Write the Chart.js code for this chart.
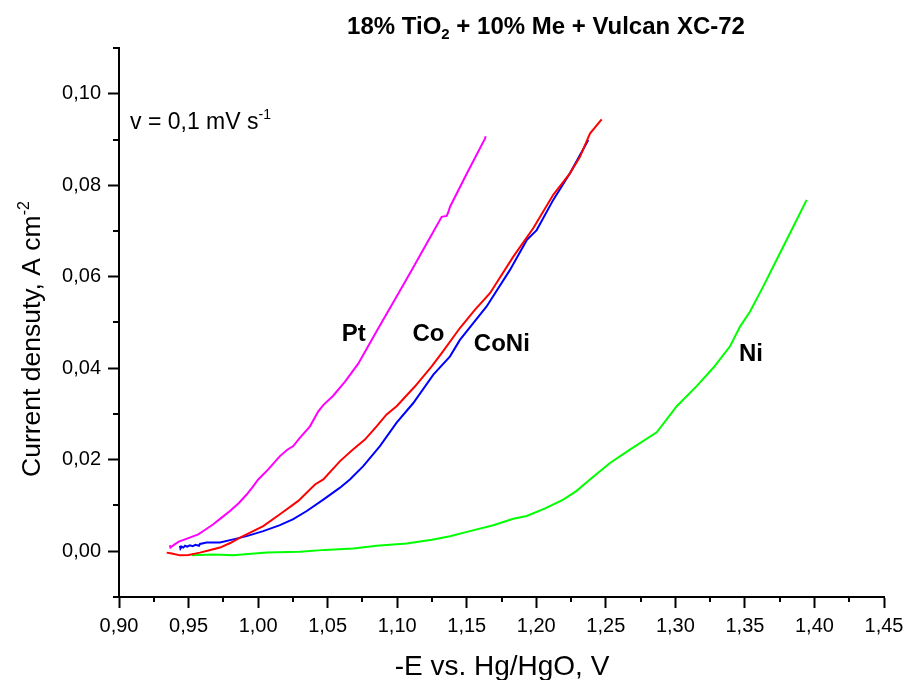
<!DOCTYPE html>
<html>
<head>
<meta charset="utf-8">
<style>
  html, body { margin: 0; padding: 0; background: #fff; }
  #wrap { width: 905px; height: 680px; position: relative; }
</style>
<script src="https://cdn.jsdelivr.net/npm/chart.js@4/dist/chart.umd.min.js"></script>
</head>
<body>
<div id="wrap"><canvas id="c" width="905" height="680"></canvas></div>
<script>
// Polarisation curves: potential (-E vs. Hg/HgO, V) and current density (A cm^-2)
const ptE   = [0.9366, 0.9370, 0.9395, 0.9430, 0.9474, 0.9570, 0.9620, 0.9678, 0.9740, 0.9798, 0.9860, 0.9918, 0.9960, 1.0001, 1.0073, 1.0157, 1.0210, 1.0253, 1.0300, 1.0373, 1.0433, 1.0470, 1.0540, 1.0625, 1.0720, 1.0852, 1.0996, 1.1100, 1.1200, 1.1320, 1.1356, 1.1366, 1.1380, 1.1500, 1.1631, 1.1636];
const ptJ   = [0.0013, 0.0008, 0.0014, 0.0021, 0.0026, 0.0037, 0.0047, 0.0059, 0.0074, 0.0088, 0.0105, 0.0124, 0.0140, 0.0157, 0.0179, 0.0208, 0.0222, 0.0230, 0.0248, 0.0273, 0.0306, 0.0320, 0.0340, 0.0371, 0.0410, 0.0481, 0.0557, 0.0612, 0.0666, 0.0731, 0.0733, 0.0740, 0.0753, 0.0825, 0.0902, 0.0907];

const coE   = [0.9343, 0.9380, 0.9438, 0.9500, 0.9582, 0.9650, 0.9726, 0.9800, 0.9870, 0.9950, 1.0037, 1.0157, 1.0289, 1.0409, 1.0469, 1.0589, 1.0680, 1.0768, 1.0852, 1.0924, 1.0996, 1.1127, 1.1248, 1.1320, 1.1451, 1.1560, 1.1667, 1.1835, 1.1978, 1.2122, 1.2242, 1.2314, 1.2386, 1.2470];
const coJ   = [-0.0003, -0.0005, -0.0009, -0.0008, -0.0003, 0.0002, 0.0008, 0.0018, 0.0030, 0.0042, 0.0055, 0.0081, 0.0110, 0.0146, 0.0157, 0.0197, 0.0222, 0.0244, 0.0273, 0.0299, 0.0317, 0.0360, 0.0404, 0.0433, 0.0488, 0.0528, 0.0564, 0.0644, 0.0706, 0.0779, 0.0826, 0.0862, 0.0913, 0.0944];

const coNiE = [0.9438, 0.9442, 0.9450, 0.9462, 0.9475, 0.9490, 0.9510, 0.9530, 0.9550, 0.9575, 0.9582, 0.9630, 0.9726, 0.9822, 0.9918, 1.0037, 1.0157, 1.0253, 1.0350, 1.0469, 1.0589, 1.0660, 1.0756, 1.0876, 1.0996, 1.1116, 1.1260, 1.1380, 1.1451, 1.1643, 1.1811, 1.1931, 1.2003, 1.2122, 1.2242, 1.2374];
const coNiJ = [0.0012, 0.0006, 0.0010, 0.0008, 0.0012, 0.0010, 0.0013, 0.0011, 0.0014, 0.0012, 0.0016, 0.0019, 0.0019, 0.0026, 0.0033, 0.0044, 0.0057, 0.0070, 0.0088, 0.0113, 0.0139, 0.0157, 0.0186, 0.0230, 0.0281, 0.0324, 0.0386, 0.0426, 0.0462, 0.0535, 0.0615, 0.0680, 0.0702, 0.0768, 0.0826, 0.0899];

const niE   = [0.9523, 0.9678, 0.9822, 1.0062, 1.0301, 1.0481, 1.0684, 1.0852, 1.1068, 1.1250, 1.1380, 1.1523, 1.1691, 1.1835, 1.1931, 1.2060, 1.2194, 1.2290, 1.2386, 1.2530, 1.2673, 1.2866, 1.3010, 1.3153, 1.3273, 1.3393, 1.3465, 1.3537, 1.3632, 1.3728, 1.3824, 1.3944];
const niJ   = [-0.0009, -0.0007, -0.0009, -0.0003, -0.0001, 0.0003, 0.0006, 0.0012, 0.0017, 0.0025, 0.0033, 0.0044, 0.0057, 0.0071, 0.0077, 0.0093, 0.0113, 0.0132, 0.0157, 0.0193, 0.0222, 0.0260, 0.0317, 0.0361, 0.0401, 0.0448, 0.0491, 0.0524, 0.0579, 0.0637, 0.0695, 0.0768];

// Axis ticks
const xMajorTicks = [0.90, 0.95, 1.00, 1.05, 1.10, 1.15, 1.20, 1.25, 1.30, 1.35, 1.40, 1.45];
const xMinorTicks = [0.925, 0.975, 1.025, 1.075, 1.125, 1.175, 1.225, 1.275, 1.325, 1.375, 1.425];
const yMajorTicks = [0.00, 0.02, 0.04, 0.06, 0.08, 0.10];
const yMinorTicks = [-0.01, 0.01, 0.03, 0.05, 0.07, 0.09, 0.11];

const FONT = "'Liberation Sans', Arial, Helvetica, sans-serif";

function pairs(xs, ys) { return xs.map((x, i) => ({ x: x, y: ys[i] })); }
function comma(v) { return v.toFixed(2).replace('.', ','); }

// Draws a run of text pieces, some raised (sup) or lowered (sub)
function drawRich(ctx, parts, x, y, size, weight) {
  let cx = x;
  parts.forEach(p => {
    const s = p.sup || p.sub ? Math.round(size * 0.62) : size;
    ctx.font = weight + ' ' + s + 'px ' + FONT;
    const dy = p.sup ? -size * 0.42 : (p.sub ? size * 0.22 : 0);
    ctx.fillText(p.t, cx, y + dy);
    cx += ctx.measureText(p.t).width;
  });
  return cx - x;
}
function richWidth(ctx, parts, size, weight) {
  let w = 0;
  parts.forEach(p => {
    const s = p.sup || p.sub ? Math.round(size * 0.62) : size;
    ctx.font = weight + ' ' + s + 'px ' + FONT;
    w += ctx.measureText(p.t).width;
  });
  return w;
}

const textPlugin = {
  id: 'texts',
  afterDraw(chart) {
    const ctx = chart.ctx;
    const xs = chart.scales.x, ys = chart.scales.y;
    const area = chart.chartArea;
    ctx.save();
    ctx.fillStyle = '#000';
    ctx.strokeStyle = '#000';
    ctx.textBaseline = 'alphabetic';
    ctx.textAlign = 'left';

    // minor ticks
    ctx.lineWidth = 2;
    ctx.beginPath();
    xMinorTicks.forEach(v => {
      const px = Math.round(xs.getPixelForValue(v));
      ctx.moveTo(px, area.bottom);
      ctx.lineTo(px, area.bottom + 5);
    });
    yMinorTicks.forEach(v => {
      const py = Math.round(ys.getPixelForValue(v));
      ctx.moveTo(area.left, py);
      ctx.lineTo(area.left - 6, py);
    });
    ctx.stroke();

    // title
    const title = [{ t: '18% TiO' }, { t: '2', sub: true }, { t: ' + 10% Me + Vulcan XC-72' }];
    const tw = richWidth(ctx, title, 24, 'bold');
    drawRich(ctx, title, 546 - tw / 2, 34, 24, 'bold');

    // scan rate note
    drawRich(ctx, [{ t: 'v = 0,1 mV s' }, { t: '-1', sup: true }], 130, 129, 23, 'normal');

    // x axis title
    const xt = [{ t: '-E vs. Hg/HgO, V' }];
    const xw = richWidth(ctx, xt, 28, 'normal');
    drawRich(ctx, xt, 502 - xw / 2, 675, 28, 'normal');

    // y axis title
    ctx.save();
    ctx.translate(40, 477);
    ctx.rotate(-Math.PI / 2);
    drawRich(ctx, [{ t: 'Current densuty, A cm' }, { t: '-2', sup: true }], 0, 0, 26.5, 'normal');
    ctx.restore();

    // curve labels
    ctx.font = 'bold 24px ' + FONT;
    ctx.fillText('Pt', xs.getPixelForValue(1.0601), ys.getPixelForValue(0.0459));
    ctx.fillText('Co', xs.getPixelForValue(1.1110), ys.getPixelForValue(0.0459));
    ctx.fillText('CoNi', xs.getPixelForValue(1.1551), ys.getPixelForValue(0.0437));
    ctx.fillText('Ni', xs.getPixelForValue(1.3457), ys.getPixelForValue(0.0415));
    ctx.restore();
  }
};

const lineStyle = { borderWidth: 2, pointRadius: 0, tension: 0, fill: false, showLine: true };

new Chart(document.getElementById('c'), {
  type: 'scatter',
  data: {
    datasets: [
      Object.assign({ label: 'Pt',   data: pairs(ptE, ptJ),     borderColor: '#FF00FF' }, lineStyle),
      Object.assign({ label: 'Co',   data: pairs(coE, coJ),     borderColor: '#FF0000' }, lineStyle),
      Object.assign({ label: 'CoNi', data: pairs(coNiE, coNiJ), borderColor: '#0000FF' }, lineStyle),
      Object.assign({ label: 'Ni',   data: pairs(niE, niJ),     borderColor: '#00FF00' }, lineStyle)
    ]
  },
  options: {
    responsive: false,
    animation: false,
    devicePixelRatio: 1,
    layout: { padding: { left: 0, right: 21, top: 48, bottom: 0 } },
    plugins: { legend: { display: false }, tooltip: { enabled: false }, title: { display: false } },
    scales: {
      x: {
        type: 'linear', min: 0.90, max: 1.45,
        afterBuildTicks: s => { s.ticks = xMajorTicks.map(v => ({ value: v })); },
        afterFit: s => { s.height = 83; s.paddingLeft = 0; s.paddingRight = 0; },
        border: { display: true, color: '#000', width: 2 },
        grid: { display: true, drawOnChartArea: false, drawTicks: true, tickLength: 11, tickWidth: 2, tickColor: '#000' },
        ticks: { color: '#000', padding: 6, maxRotation: 0, font: { family: FONT, size: 20 }, callback: v => comma(v) }
      },
      y: {
        type: 'linear', min: -0.01, max: 0.11,
        afterBuildTicks: s => { s.ticks = yMajorTicks.map(v => ({ value: v })); },
        afterFit: s => { s.width = 119; s.paddingTop = 0; s.paddingBottom = 0; },
        border: { display: true, color: '#000', width: 2 },
        grid: { display: true, drawOnChartArea: false, drawTicks: true, tickLength: 11, tickWidth: 2, tickColor: '#000' },
        ticks: { color: '#000', padding: 7, font: { family: FONT, size: 20 }, callback: v => comma(v) }
      }
    }
  },
  plugins: [textPlugin]
});
</script>
</body>
</html>
